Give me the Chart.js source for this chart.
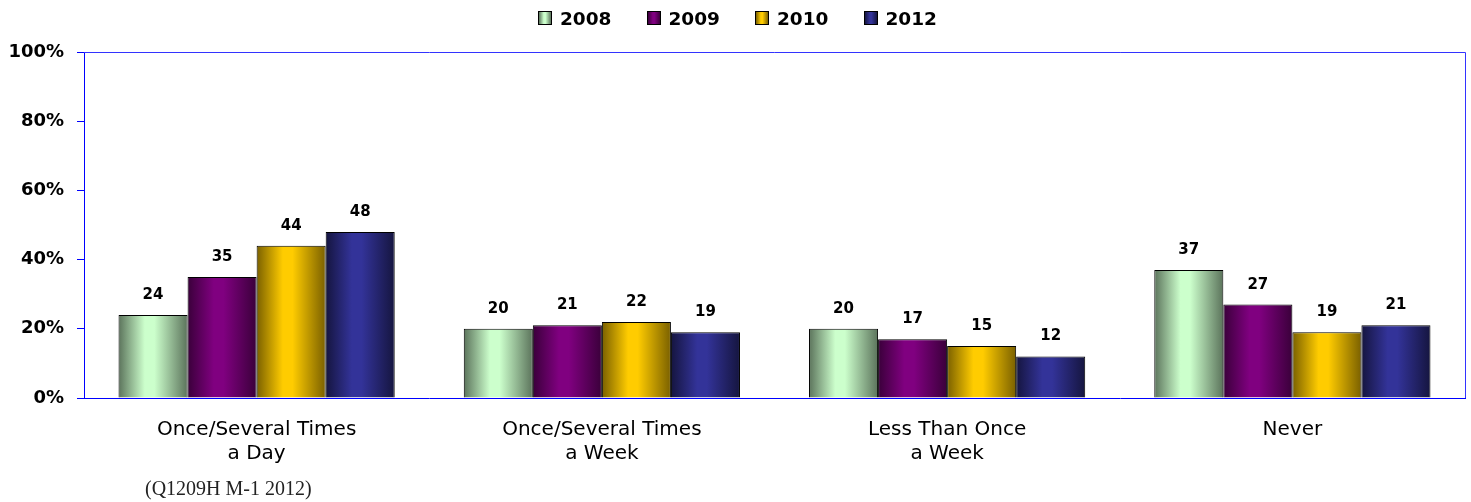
<!DOCTYPE html>
<html>
<head>
<meta charset="utf-8">
<title>Frequency by year</title>
<script src="https://cdn.jsdelivr.net/npm/chart.js@4.4.1/dist/chart.umd.min.js"></script>
<style>
  html, body { margin: 0; padding: 0; background: #ffffff; }
  #wrap { position: relative; width: 1471px; height: 502px; }
  #legend {
    position: absolute; left: 538px; top: 5px;
    display: flex; gap: 35px;
    font: bold 18.5px "DejaVu Sans", Verdana, sans-serif; color: #000;
  }
  #legend .item { display: flex; align-items: center; gap: 8px; height: 26px; }
  #legend .box { width: 12px; height: 12px; border: 1px solid #000; }
  #note {
    position: absolute; left: 145px; top: 477px;
    font: 20px "Liberation Serif", "Times New Roman", serif; color: #222;
  }
</style>
</head>
<body>
<div id="wrap">
  <canvas id="chart" width="1471" height="502"></canvas>
  <div id="legend"></div>
  <div id="note">(Q1209H M-1 2012)</div>
</div>
<script>
// data
const categories = [
  ["Once/Several Times", "a Day"],
  ["Once/Several Times", "a Week"],
  ["Less Than Once", "a Week"],
  ["Never"]
];
const years = ["2008", "2009", "2010", "2012"];
const values2008 = [24, 20, 20, 37];
const values2009 = [35, 21, 17, 27];
const values2010 = [44, 22, 15, 19];
const values2012 = [48, 19, 12, 21];
const yTicks = [0, 20, 40, 60, 80, 100];

// bar shading: [dark edge, bright centre]
const shades = [
  ["#5b735b", "#ccffcc"],
  ["#3a003a", "#800080"],
  ["#7a6000", "#ffcc00"],
  ["#15153f", "#333399"]
];

const seriesValues = [values2008, values2009, values2010, values2012];

/* legend (html) */
const legendEl = document.getElementById("legend");
years.forEach((y, i) => {
  const item = document.createElement("div");
  item.className = "item";
  const box = document.createElement("span");
  box.className = "box";
  box.style.background = `linear-gradient(to right, ${shades[i][0]} 0%, ${shades[i][1]} 40%, ${shades[i][1]} 55%, ${shades[i][0]} 100%)`;
  const txt = document.createElement("span");
  txt.textContent = y;
  item.appendChild(box);
  item.appendChild(txt);
  legendEl.appendChild(item);
});

/* gradient fill for every bar, made from its own x and width */
const barShading = {
  id: "barShading",
  beforeDatasetsDraw(chart) {
    const ctx = chart.ctx;
    chart.data.datasets.forEach((ds, di) => {
      const meta = chart.getDatasetMeta(di);
      meta.data.forEach(bar => {
        const x0 = bar.x - bar.width / 2;
        const x1 = bar.x + bar.width / 2;
        const g = ctx.createLinearGradient(x0, 0, x1, 0);
        g.addColorStop(0, shades[di][0]);
        g.addColorStop(0.38, shades[di][1]);
        g.addColorStop(0.52, shades[di][1]);
        g.addColorStop(1, shades[di][0]);
        bar.options = Object.assign({}, bar.options, { backgroundColor: g });
      });
    });
  }
};

/* value labels above bars */
const valueLabels = {
  id: "valueLabels",
  afterDatasetsDraw(chart) {
    const ctx = chart.ctx;
    ctx.save();
    ctx.font = "bold 15px 'DejaVu Sans', Verdana, sans-serif";
    ctx.fillStyle = "#000";
    ctx.textAlign = "center";
    ctx.textBaseline = "alphabetic";
    chart.data.datasets.forEach((ds, di) => {
      chart.getDatasetMeta(di).data.forEach((bar, i) => {
        ctx.fillText(String(ds.data[i]), bar.x, bar.y - 16);
      });
    });
    ctx.restore();
  }
};

/* blue frame round the plot area (top and right sides) */
const plotFrame = {
  id: "plotFrame",
  afterDraw(chart) {
    const a = chart.chartArea;
    const ctx = chart.ctx;
    ctx.save();
    ctx.strokeStyle = "#3333ff";
    ctx.lineWidth = 1;
    ctx.beginPath();
    ctx.moveTo(Math.round(a.left), Math.round(a.top) + 0.5);
    ctx.lineTo(Math.round(a.right) + 0.5, Math.round(a.top) + 0.5);
    ctx.lineTo(Math.round(a.right) + 0.5, Math.round(a.bottom));
    ctx.stroke();
    ctx.restore();
  }
};

new Chart(document.getElementById("chart"), {
  type: "bar",
  data: {
    labels: categories,
    datasets: years.map((y, i) => ({
      label: y,
      data: seriesValues[i],
      backgroundColor: shades[i][1],
      borderColor: "#000000",
      borderWidth: 1,
      borderSkipped: "bottom"
    }))
  },
  options: {
    responsive: false,
    animation: false,
    events: [],
    layout: { padding: { top: 52, right: 6, left: 0, bottom: 0 } },
    datasets: { bar: { categoryPercentage: 0.8, barPercentage: 1.0 } },
    plugins: {
      legend: { display: false },
      tooltip: { enabled: false }
    },
    scales: {
      x: {
        grid: { display: false },
        border: { display: true, color: "#0000ff", width: 1 },
        ticks: {
          color: "#000",
          padding: 12,
          maxRotation: 0,
          font: { family: "'DejaVu Sans', Verdana, sans-serif", size: 20, lineHeight: 1.2 }
        },
        afterFit(scale) { scale.height = 104; }
      },
      y: {
        min: 0,
        max: 100,
        afterBuildTicks(scale) { scale.ticks = yTicks.map(v => ({ value: v })); },
        grid: { display: true, drawOnChartArea: false, drawTicks: true, tickLength: 7, color: "#0000ff" },
        border: { display: true, color: "#0000ff", width: 1 },
        ticks: {
          color: "#000",
          padding: 13,
          font: { family: "'DejaVu Sans', Verdana, sans-serif", size: 18, weight: "bold" },
          callback: v => v + "%"
        },
        afterFit(scale) { scale.width = 84; }
      }
    }
  },
  plugins: [barShading, valueLabels, plotFrame]
});
</script>
</body>
</html>
